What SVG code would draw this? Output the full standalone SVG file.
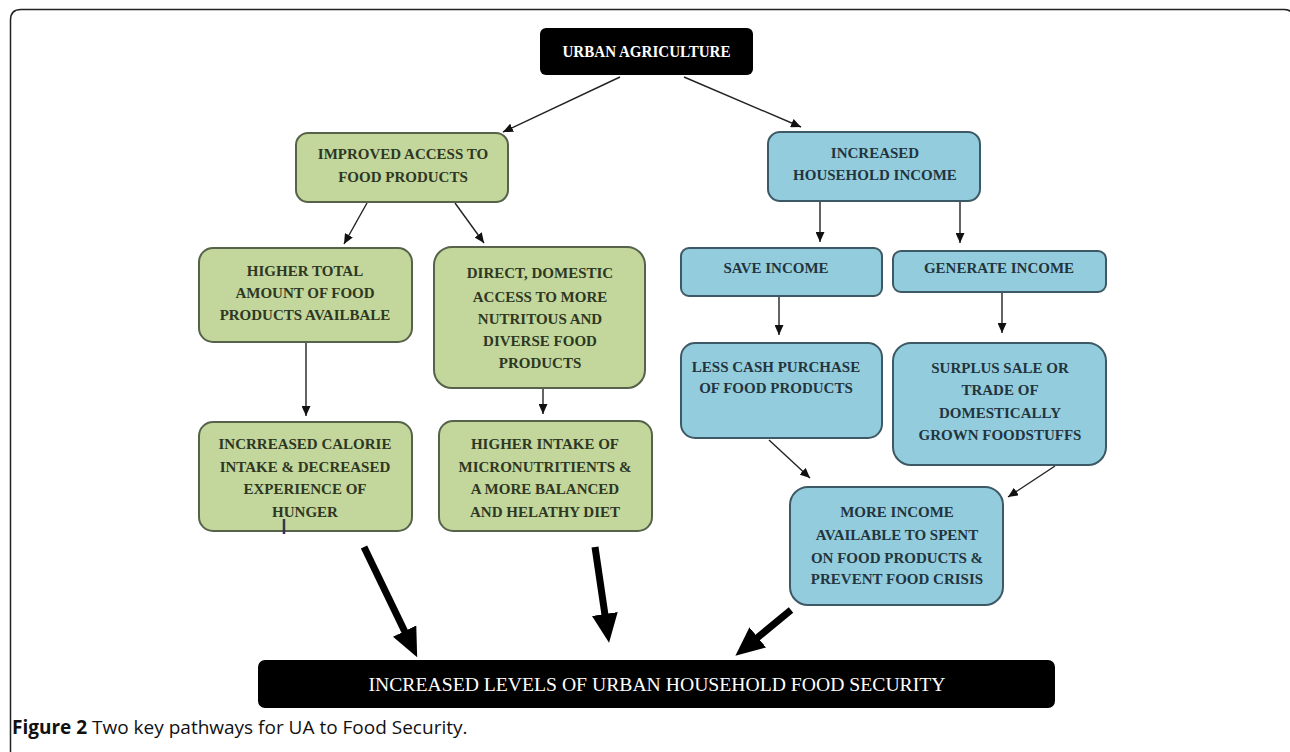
<svg xmlns="http://www.w3.org/2000/svg" width="1290" height="752" viewBox="0 0 1290 752">
<defs>
<marker id="ah" markerUnits="userSpaceOnUse" markerWidth="11" markerHeight="9" refX="10" refY="4.5" orient="auto"><path d="M0,0 L10,4.5 L0,9 z" fill="#111"/></marker>
<marker id="big" markerUnits="userSpaceOnUse" markerWidth="30" markerHeight="26" refX="1" refY="13" orient="auto"><path d="M0,0 L29,13 L0,26 z" fill="#000"/></marker>
<style>
.g{fill:#c3d69b;stroke:#56634a;stroke-width:2}
.b{fill:#93cddd;stroke:#3d5966;stroke-width:2}
.k{fill:#000}
.t{font-family:"Liberation Serif",serif;font-weight:bold;font-size:15px;text-anchor:middle}
.tg{fill:#2d3723}
.tb{fill:#23343d}
.tw{fill:#fff}
.c{stroke:#222;stroke-width:1.4;fill:none;marker-end:url(#ah)}
.th{stroke:#000;stroke-width:7;fill:none;marker-end:url(#big)}
</style>
</defs>
<rect width="1290" height="752" fill="#fff"/>
<path d="M10.5,752 L10.5,20 Q10.5,9.5 21,9.5 L1284,9.5 Q1293,9.5 1293,18 L1293,752" fill="none" stroke="#222" stroke-width="1.5"/>

<g id="connectors">
<line class="c" x1="620" y1="77" x2="503" y2="132"/>
<line class="c" x1="684" y1="77" x2="801" y2="127"/>
<line class="c" x1="367" y1="203" x2="344" y2="244"/>
<line class="c" x1="455" y1="203" x2="484" y2="243"/>
<line class="c" x1="306" y1="342" x2="306" y2="416"/>
<line class="c" x1="543" y1="388" x2="543" y2="414"/>
<line class="c" x1="820" y1="201" x2="820" y2="242"/>
<line class="c" x1="960" y1="201" x2="960" y2="243"/>
<line class="c" x1="779" y1="296" x2="779" y2="335"/>
<line class="c" x1="1002" y1="292" x2="1002" y2="333"/>
<line class="c" x1="769" y1="440" x2="810" y2="478"/>
<line class="c" x1="1055" y1="466" x2="1008" y2="497"/>
<line class="th" x1="364" y1="547" x2="405" y2="632"/>
<line class="th" x1="595" y1="547" x2="605" y2="615"/>
<line class="th" x1="791" y1="610" x2="757" y2="638"/>
</g>

<g id="urban-agriculture">
<rect class="k" x="540" y="28" width="213" height="47" rx="6"/>
<text class="t tw" x="646.5" y="57" textLength="168" lengthAdjust="spacingAndGlyphs" style="font-size:16px">URBAN AGRICULTURE</text>
</g>

<g id="improved-access">
<rect class="g" x="296" y="133" width="212" height="69" rx="12"/>
<text class="t tg" x="403" y="159">IMPROVED ACCESS TO</text>
<text class="t tg" x="403" y="182">FOOD PRODUCTS</text>
</g>

<g id="higher-total">
<rect class="g" x="199" y="248" width="213" height="94" rx="14"/>
<text class="t tg" x="305" y="276">HIGHER TOTAL</text>
<text class="t tg" x="305" y="298">AMOUNT OF FOOD</text>
<text class="t tg" x="305" y="320">PRODUCTS AVAILBALE</text>
</g>

<g id="direct-domestic">
<rect class="g" x="434" y="247" width="211" height="141" rx="18"/>
<text class="t tg" x="540" y="278">DIRECT, DOMESTIC</text>
<text class="t tg" x="540" y="302">ACCESS TO MORE</text>
<text class="t tg" x="540" y="324">NUTRITOUS AND</text>
<text class="t tg" x="540" y="346">DIVERSE FOOD</text>
<text class="t tg" x="540" y="368">PRODUCTS</text>
</g>

<g id="increased-calorie">
<rect class="g" x="199" y="422" width="213" height="109" rx="14"/>
<text class="t tg" x="305" y="449">INCRREASED CALORIE</text>
<text class="t tg" x="305" y="472">INTAKE &amp; DECREASED</text>
<text class="t tg" x="305" y="494">EXPERIENCE OF</text>
<text class="t tg" x="305" y="517">HUNGER</text>
<line x1="284" y1="519" x2="284" y2="534" stroke="#3a3350" stroke-width="2.5"/>
</g>

<g id="higher-intake">
<rect class="g" x="439" y="421" width="213" height="110" rx="14"/>
<text class="t tg" x="545" y="449">HIGHER INTAKE OF</text>
<text class="t tg" x="545" y="472">MICRONUTRITIENTS &amp;</text>
<text class="t tg" x="545" y="494">A MORE BALANCED</text>
<text class="t tg" x="545" y="517">AND HELATHY DIET</text>
</g>

<g id="increased-household-income">
<rect class="b" x="768" y="132" width="212" height="69" rx="12"/>
<text class="t tb" x="875" y="158">INCREASED</text>
<text class="t tb" x="875" y="180">HOUSEHOLD INCOME</text>
</g>

<g id="save-income">
<rect class="b" x="681" y="248" width="201" height="48" rx="8"/>
<text class="t tb" x="776" y="273">SAVE INCOME</text>
</g>

<g id="generate-income">
<rect class="b" x="893" y="251" width="213" height="41" rx="8"/>
<text class="t tb" x="999" y="273">GENERATE INCOME</text>
</g>

<g id="less-cash">
<rect class="b" x="681" y="343" width="201" height="95" rx="14"/>
<text class="t tb" x="776" y="372">LESS CASH PURCHASE</text>
<text class="t tb" x="776" y="393">OF FOOD PRODUCTS</text>
</g>

<g id="surplus-sale">
<rect class="b" x="893" y="343" width="213" height="122" rx="18"/>
<text class="t tb" x="1000" y="373">SURPLUS SALE OR</text>
<text class="t tb" x="1000" y="395">TRADE OF</text>
<text class="t tb" x="1000" y="418">DOMESTICALLY</text>
<text class="t tb" x="1000" y="440">GROWN FOODSTUFFS</text>
</g>

<g id="more-income">
<rect class="b" x="790" y="487" width="213" height="118" rx="18"/>
<text class="t tb" x="897" y="517">MORE INCOME</text>
<text class="t tb" x="897" y="540">AVAILABLE TO SPENT</text>
<text class="t tb" x="897" y="563">ON FOOD PRODUCTS &amp;</text>
<text class="t tb" x="897" y="584">PREVENT FOOD CRISIS</text>
</g>

<g id="food-security">
<rect class="k" x="258" y="660" width="797" height="48" rx="7"/>
<text class="t tw" x="657" y="691" textLength="577" lengthAdjust="spacingAndGlyphs" style="font-size:19px;font-weight:normal">INCREASED LEVELS OF URBAN HOUSEHOLD FOOD SECURITY</text>
</g>

<text x="12" y="734" style="font-family:'Open Sans',sans-serif;font-size:19px;fill:#111"><tspan font-weight="bold">Figure 2</tspan> Two key pathways for UA to Food Security.</text>
</svg>
